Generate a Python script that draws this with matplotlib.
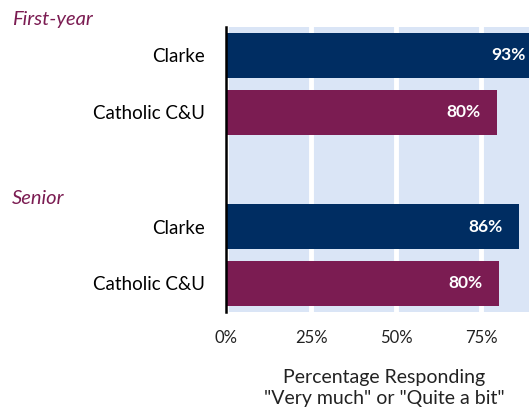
import matplotlib.pyplot as plt
from matplotlib.ticker import FuncFormatter

plt.rcParams["font.family"] = ["Lato", "DejaVu Sans"]

groups = ["First-year", "Senior"]
institutions = ["Clarke", "Catholic C&U"]
values = {
    "First-year": [93.0, 79.6],
    "Senior": [86.2, 80.2],
}
xticks = [0, 25, 50, 75]
xlabel = "Percentage Responding\n\"Very much\" or \"Quite a bit\""

navy = "#002D62"
purple = "#7B1C52"
bg = "#DAE5F6"

fig = plt.figure(figsize=(5.29, 4.09), dpi=100)
ax = fig.add_axes([226 / 529, 1 - 312 / 409, 1 - 226 / 529, (312 - 27) / 409])
ax.set_facecolor(bg)

positions = []
labels = []
pos = 0
for g in groups:
    for i, inst in enumerate(institutions):
        val = values[g][i]
        color = navy if i == 0 else purple
        ax.barh(pos, val, height=0.8, color=color, zorder=3)
        ax.annotate(f"{round(val)}%", xy=(val, pos), xytext=(-12, 0),
                    textcoords="offset points", ha="right", va="center",
                    color="white", fontsize=12.5, fontweight="bold", zorder=4,
                    annotation_clip=False)
        positions.append(pos)
        labels.append(inst)
        pos += 1
    pos += 1

ax.set_xlim(0, 89.1)
ax.set_ylim(4.5, -0.5)
ax.set_yticks(positions)
ax.set_yticklabels(labels, fontsize=13.5)
ax.set_xticks(xticks)
ax.xaxis.set_major_formatter(FuncFormatter(lambda v, p: f"{int(v)}%"))
ax.tick_params(axis="x", length=0, labelsize=12, pad=13, colors="#222222")
ax.tick_params(axis="y", length=0, pad=15)

ax.grid(axis="x", color="white", linewidth=3.5, zorder=1)
ax.set_axisbelow(True)
for s in ["top", "right", "bottom"]:
    ax.spines[s].set_visible(False)
ax.spines["left"].set_color("black")
ax.spines["left"].set_linewidth(1.8)
ax.spines["left"].set_zorder(5)

# group headers
fig.text(12 / 529, 1 - 20 / 409, "First-year", color=purple, fontsize=14.5,
         style="italic", ha="left", va="center")
fig.text(12 / 529, 1 - 198 / 409, "Senior", color=purple, fontsize=14.5,
         style="italic", ha="left", va="center")

fig.text(384 / 529, 1 - 388 / 409, xlabel, ha="center", va="center",
         fontsize=14, linespacing=1.35, color="#222222")

fig.savefig("out.png", dpi=100)
